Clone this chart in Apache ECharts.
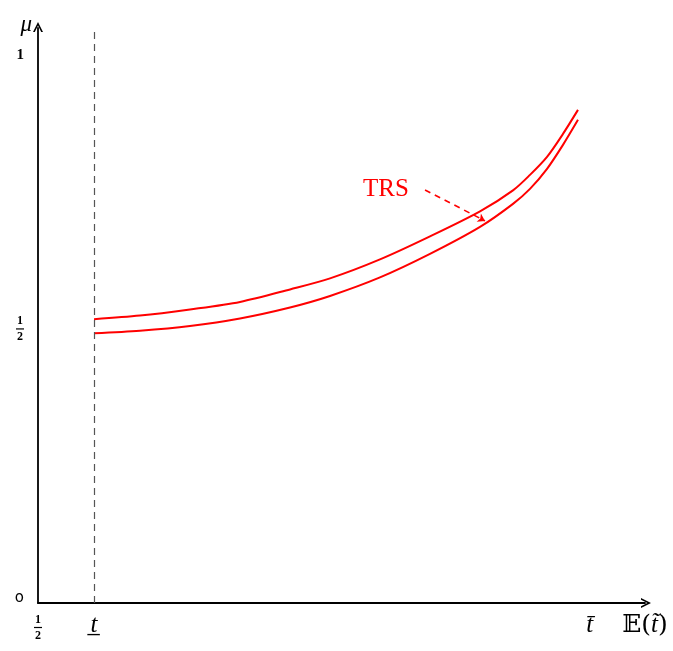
<!DOCTYPE html>
<html>
<head>
<meta charset="utf-8">
<script src="https://cdn.jsdelivr.net/npm/echarts@6/dist/echarts.min.js"></script>
<style>
html,body{margin:0;padding:0;background:#fff}
#c{width:673px;height:651px}
</style>
</head>
<body>
<div id="c"></div>
<script>
// Upper and lower bounds of the TRS band, as [E(t~), mu] pairs
const upperBand = [
  [0.0923, 0.5177], [0.1680, 0.5243], [0.2504, 0.5356], [0.3328, 0.5493],
  [0.4152, 0.5721], [0.4811, 0.5922], [0.5634, 0.6268], [0.6458, 0.6688],
  [0.7282, 0.7144], [0.7825, 0.7527], [0.8105, 0.7810], [0.8386, 0.8139],
  [0.8649, 0.8558], [0.8896, 0.8996]
];
const lowerBand = [
  [0.0923, 0.4922], [0.1680, 0.4969], [0.2504, 0.5055], [0.3328, 0.5192],
  [0.4152, 0.5392], [0.4811, 0.5602], [0.5634, 0.5940], [0.6458, 0.6369],
  [0.7282, 0.6861], [0.7825, 0.7281], [0.8105, 0.7555], [0.8386, 0.7920],
  [0.8649, 0.8358], [0.8896, 0.8814]
];

// Positions of the named points on the horizontal axis
const tLow = 0.0923;
const tHigh = 0.909;
const xTickValues = [0, tLow, tHigh, 1];
const xTickLabels = ['{n|1}\n{bar|}\n{n|2}', '{t|t\u0332}', '{t|t\u0304}', '{e|\uD835\uDD3C(}{t|t\u0303}{e|)}'];

// Vertical axis labels
const yTickValues = [0, 0.5, 1];
const yTickLabels = ['{z|o}', '{n|1}\n{bar|}\n{n|2}', '{one|1}'];

// Annotation: label and the dashed pointer into the band
const trsLabelAt = [0.5733, 0.7536];
const trsArrow = [[0.6376, 0.7536], [0.7364, 0.6971]];

const serif = '"Liberation Serif", "DejaVu Serif", serif';
const chevron = 'path://M0,10 L5,0 L10,10 L8.2,10 L5,3.6 L1.8,10 Z';

const fracRich = {
  n: { fontFamily: serif, fontSize: 12, fontWeight: 'bold', color: '#000', lineHeight: 13, align: 'center' },
  bar: { width: 8, height: 1.2, backgroundColor: '#000', lineHeight: 3, align: 'center' }
};

const chart = echarts.init(document.getElementById('c'));
chart.setOption({
  animation: false,
  backgroundColor: '#fff',
  grid: { left: 38, right: 28, top: 28, bottom: 48, containLabel: false },
  xAxis: {
    type: 'value', min: 0, max: 1,
    splitLine: { show: false },
    axisLine: { lineStyle: { color: '#000', width: 1.8 }, symbol: ['none', chevron], symbolSize: [16, 10], symbolOffset: [0, 1] },
    axisTick: { show: false },
    axisLabel: {
      customValues: xTickValues,
      margin: 10,
      verticalAlign: 'top',
      formatter: function (v) {
        const i = xTickValues.indexOf(v);
        return i >= 0 ? xTickLabels[i] : '';
      },
      rich: Object.assign({
        t: { fontFamily: serif, fontStyle: 'italic', fontSize: 25, color: '#000' },
        e: { fontFamily: '"DejaVu Serif", serif', fontSize: 25, color: '#000' }
      }, fracRich)
    }
  },
  yAxis: {
    type: 'value', min: 0, max: 1.049,
    name: '\u03BC',
    nameLocation: 'end',
    nameGap: 0,
    nameTextStyle: { fontFamily: serif, fontStyle: 'italic', fontSize: 23, color: '#000', align: 'right', verticalAlign: 'bottom', padding: [0, 6, -8, 0] },
    splitLine: { show: false },
    axisLine: { lineStyle: { color: '#000', width: 1.8 }, symbol: ['none', chevron], symbolSize: [16, 10], symbolOffset: [0, 1] },
    axisTick: { show: false },
    axisLabel: {
      customValues: yTickValues,
      margin: 14,
      formatter: function (v) {
        const i = yTickValues.indexOf(v);
        return i >= 0 ? yTickLabels[i] : '';
      },
      rich: Object.assign({
        one: { fontFamily: serif, fontSize: 15, fontWeight: 'bold', color: '#000' },
        z: { fontFamily: '"DejaVu Sans", sans-serif', fontSize: 15, color: '#000', padding: [0, 0, 10, 0] }
      }, fracRich)
    }
  },
  series: [
    {
      name: 'upper', type: 'line', data: upperBand, smooth: 0.3,
      showSymbol: false, symbol: 'none',
      lineStyle: { color: '#ff0000', width: 2 },
      markLine: {
        silent: true,
        data: [
          [{ xAxis: tLow, yAxis: 0, symbol: 'none' }, { xAxis: tLow, yAxis: 1.049, symbol: 'none' }]
        ],
        label: { show: false },
        lineStyle: { color: '#555', type: [7, 5], width: 1.2 }
      }
    },
    {
      name: 'lower', type: 'line', data: lowerBand, smooth: 0.3,
      showSymbol: false, symbol: 'none',
      lineStyle: { color: '#ff0000', width: 2 },
      markLine: {
        silent: true,
        symbol: ['none', 'arrow'],
        symbolSize: 7,
        data: [[{ coord: trsArrow[0] }, { coord: trsArrow[1] }]],
        label: { show: false },
        lineStyle: { color: '#ff0000', type: [6, 5], width: 1.6 }
      },
      markPoint: {
        silent: true,
        symbol: 'circle', symbolSize: 0,
        data: [{ coord: trsLabelAt }],
        label: { show: true, position: 'inside', formatter: 'TRS', fontFamily: serif, fontSize: 25, color: '#ff0000' }
      }
    }
  ]
});
</script>
</body>
</html>
